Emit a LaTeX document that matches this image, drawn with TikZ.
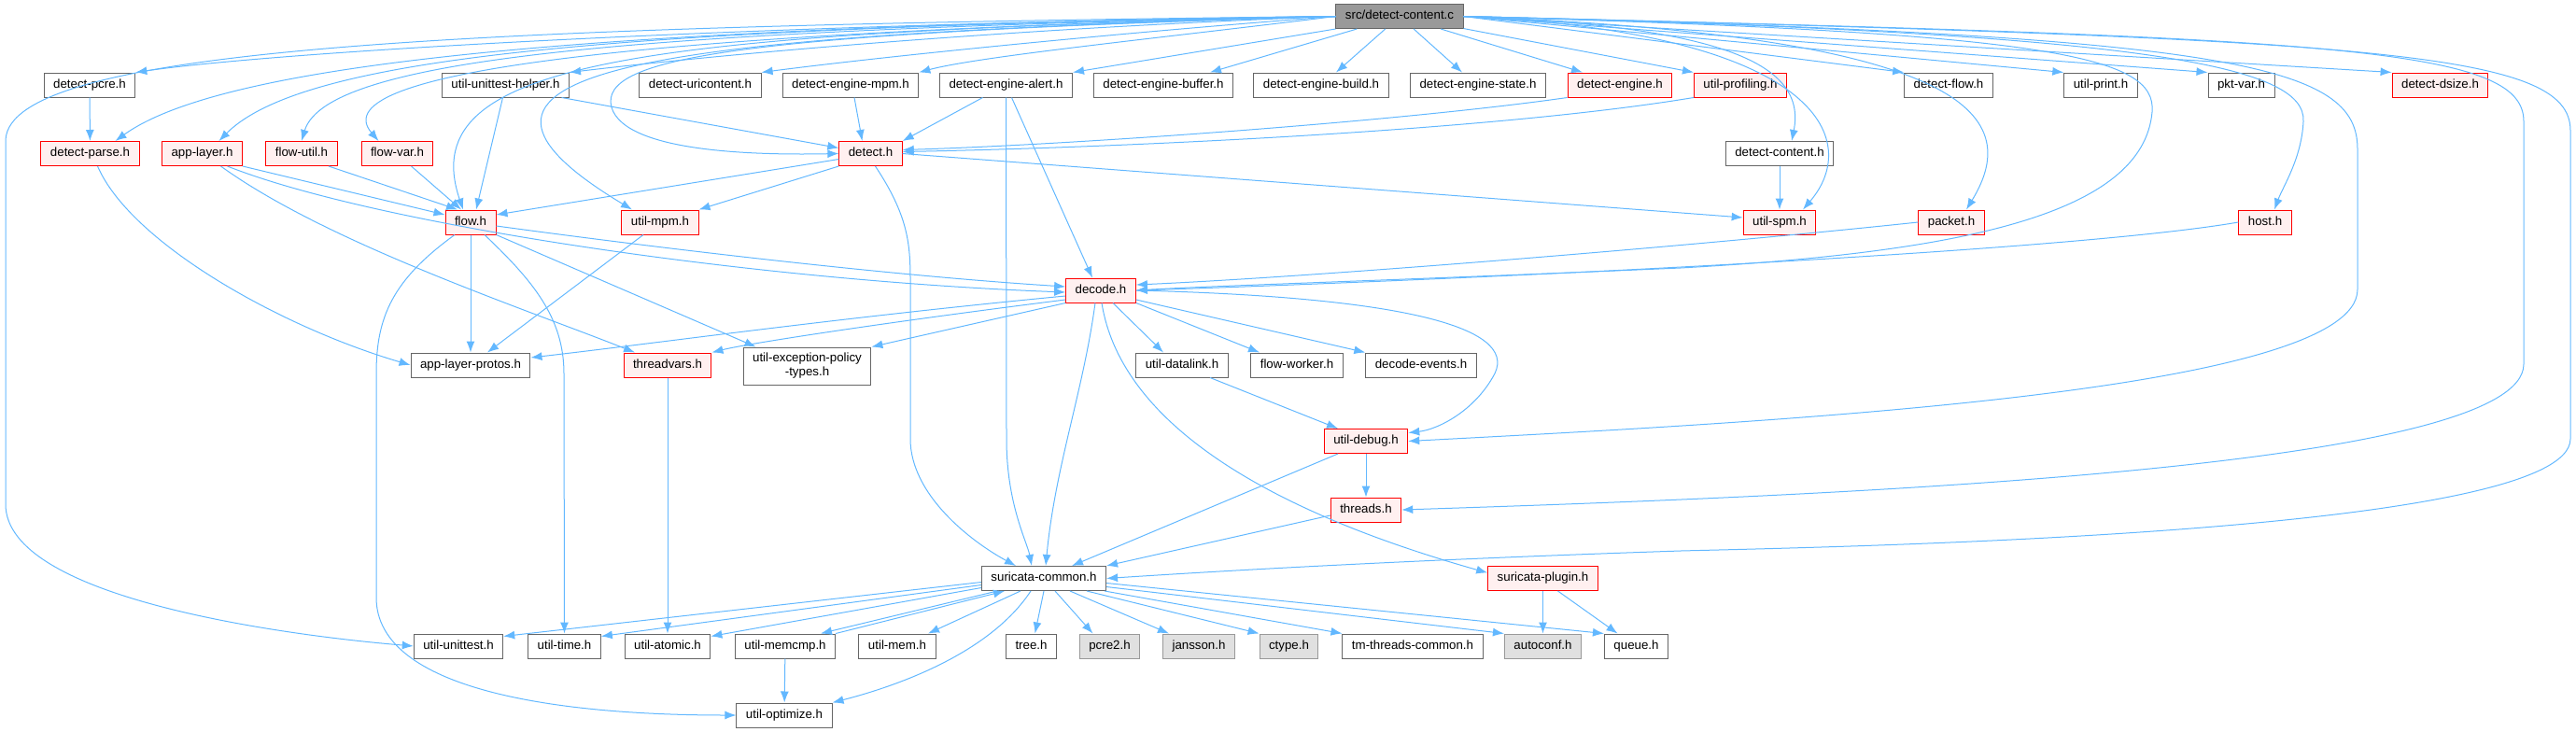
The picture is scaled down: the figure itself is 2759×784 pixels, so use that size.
\documentclass[tikz,border=0pt]{standalone}
\usepackage{fontspec}
\setmainfont{Liberation Sans}
\usetikzlibrary{arrows.meta}
\tikzset{>={Latex[length=12pt,width=9pt]}}
\definecolor{edgeblue}{HTML}{63B8FF}
\definecolor{grey40}{HTML}{666666}
\definecolor{grey60}{HTML}{999999}
\definecolor{redfill}{HTML}{FFF0F0}
\definecolor{sysfill}{HTML}{E0E0E0}
\tikzset{
  hdrbox/.style={rectangle, line width=1pt, minimum height=26pt, inner xsep=10pt,
    font=\fontsize{13.3}{15}\selectfont},
  hdr/.style={hdrbox, text height=9.6pt, text depth=2.8pt, draw=grey40, fill=white},
  hdrred/.style={hdr, draw=red, fill=redfill},
  hdrsys/.style={hdr, draw=grey60, fill=sysfill},
  hdrroot/.style={hdr, draw=grey40, fill=grey60},
  dep/.style={->, draw=edgeblue, line width=1pt}
}

\begin{document}
\begin{tikzpicture}[x=1pt, y=-1pt]
    \useasboundingbox (0,0) rectangle (2759,784);
    % headers
    \node[hdrroot] (root) at (1499,17.5) {src/detect-content.c};
    \node[hdr] (pcre) at (96,91) {detect-pcre.h};
    \node[hdr] (unittesthelper) at (541.5,91) {util-unittest-helper.h};
    \node[hdr] (uricontent) at (750,91) {detect-uricontent.h};
    \node[hdr] (enginempm) at (911,91) {detect-engine-mpm.h};
    \node[hdr] (enginealert) at (1077.5,91) {detect-engine-alert.h};
    \node[hdr] (enginebuffer) at (1246,91) {detect-engine-buffer.h};
    \node[hdr] (enginebuild) at (1415,91) {detect-engine-build.h};
    \node[hdr] (enginestate) at (1583,91) {detect-engine-state.h};
    \node[hdrred] (engine) at (1735,91) {detect-engine.h};
    \node[hdrred] (profiling) at (1864,91) {util-profiling.h};
    \node[hdr] (flowdet) at (2087,91) {detect-flow.h};
    \node[hdr] (print) at (2250,91) {util-print.h};
    \node[hdr] (pktvar) at (2400.5,91) {pkt-var.h};
    \node[hdrred] (dsize) at (2613.5,91) {detect-dsize.h};
    \node[hdrred] (parse) at (96.5,164.5) {detect-parse.h};
    \node[hdrred] (applayer) at (216.5,164.5) {app-layer.h};
    \node[hdrred] (flowutil) at (323,164.5) {flow-util.h};
    \node[hdrred] (flowvar) at (425.5,164.5) {flow-var.h};
    \node[hdrred] (detect) at (932.5,164.5) {detect.h};
    \node[hdr] (content) at (1906,164.5) {detect-content.h};
    \node[hdrred] (flow) at (504,238) {flow.h};
    \node[hdrred] (mpm) at (707,238) {util-mpm.h};
    \node[hdrred] (spm) at (1906,238) {util-spm.h};
    \node[hdrred] (packet) at (2090,238) {packet.h};
    \node[hdrred] (host) at (2426,238) {host.h};
    \node[hdrred] (decode) at (1179,311) {decode.h};
    \node[hdr] (protos) at (504,391) {app-layer-protos.h};
    \node[hdrred] (threadvars) at (715,391) {threadvars.h};
    \node[hdrbox, draw=grey40, fill=white, align=center, minimum height=40pt] (excpol) at (864.5,392) {util-exception-policy\\-types.h};
    \node[hdr] (datalink) at (1266,391) {util-datalink.h};
    \node[hdr] (worker) at (1389,391) {flow-worker.h};
    \node[hdr] (events) at (1522,391) {decode-events.h};
    \node[hdrred] (debug) at (1463,472.5) {util-debug.h};
    \node[hdrred] (threads) at (1463,546) {threads.h};
    \node[hdr] (common) at (1118,619.5) {suricata-common.h};
    \node[hdrred] (plugin) at (1652.5,619.5) {suricata-plugin.h};
    \node[hdr] (unittest) at (491,692) {util-unittest.h};
    \node[hdr] (time) at (604.5,692) {util-time.h};
    \node[hdr] (atomic) at (715,692) {util-atomic.h};
    \node[hdr] (memcmp) at (841,692) {util-memcmp.h};
    \node[hdr] (mem) at (961,692) {util-mem.h};
    \node[hdr] (tree) at (1104.5,692) {tree.h};
    \node[hdrsys] (pcre2) at (1188.5,692) {pcre2.h};
    \node[hdrsys] (jansson) at (1284,692) {jansson.h};
    \node[hdrsys] (ctype) at (1380.5,692) {ctype.h};
    \node[hdr] (tmthreads) at (1513,692) {tm-threads-common.h};
    \node[hdrsys] (autoconf) at (1652.5,692) {autoconf.h};
    \node[hdr] (queue) at (1752.5,692) {queue.h};
    \node[hdr] (optimize) at (840,766) {util-optimize.h};

    % includes of src/detect-content.c, left side
    \draw[dep] (root.west) .. controls (500,28) and (10,50) .. (6,150) -- (6,540) .. controls (6,640) and (300,680) .. (unittest.west);
    \draw[dep] (root.west) .. controls (800,26) and (300,55) .. (pcre.north east);
    \draw[dep] (root.west) .. controls (700,28) and (250,60) .. ([xshift=27pt]parse.north);
    \draw[dep] (root.west) .. controls (700,30) and (330,55) .. ([xshift=18pt]applayer.north);
    \draw[dep] (root.west) .. controls (700,32) and (350,60) .. (flowutil.north);
    \draw[dep] (root.west) .. controls (700,34) and (340,75) .. ([xshift=-20pt]flowvar.north);
    \draw[dep] (root.west) .. controls (700,36) and (440,60) .. ([xshift=-8pt]flow.north);
    \draw[dep] (root.west) .. controls (700,38) and (420,70) .. ([xshift=-30pt]mpm.north);
    \draw[dep] (root.west) .. controls (1100,30) and (800,55) .. (unittesthelper.north east);
    \draw[dep] (root.west) .. controls (1200,35) and (950,60) .. (uricontent.north east);
    \draw[dep] (root.west) .. controls (800,36) and (640,60) .. (655,115) .. controls (670,165) and (820,166) .. (detect.west);
    \draw[dep] (root.west) .. controls (1250,40) and (1050,60) .. (enginempm.north east);
    \draw[dep] (root.south west) -- (enginealert.north east);
    \draw[dep] (root) -- ([xshift=50pt]enginebuffer.north);
    \draw[dep] (root) -- ([xshift=16pt]enginebuild.north);
    \draw[dep] (root) -- ([xshift=-17pt]enginestate.north);
    \draw[dep] (root) -- ([xshift=-40pt]engine.north);
    \draw[dep] (root) -- (profiling.north west);
    % right side
    \draw[dep] (root.east) -- (flowdet.north west);
    \draw[dep] (root.east) -- (print.north west);
    \draw[dep] (root.east) -- (pktvar.north west);
    \draw[dep] (root.east) -- (dsize.north west);
    \draw[dep] (root.east) .. controls (1850,28) and (1935,70) .. ([xshift=13pt]content.north);
    \draw[dep] (root.east) .. controls (1950,35) and (1995,150) .. ([xshift=25pt]spm.north);
    \draw[dep] (root.east) .. controls (2100,38) and (2170,120) .. ([xshift=16pt]packet.north);
    \draw[dep] (root.east) .. controls (2200,35) and (2310,60) .. (2305,120) .. controls (2295,230) and (2100,270) .. (1800,287) .. controls (1500,300) and (1300,306) .. (decode.east);
    \draw[dep] (root.east) .. controls (2300,35) and (2470,70) .. (2467,130) .. controls (2465,170) and (2445,200) .. ([xshift=10pt]host.north);
    \draw[dep] (root.east) .. controls (2400,38) and (2525,70) .. (2525,160) -- (2525,310) .. controls (2525,420) and (1900,452) .. (debug.east);
    \draw[dep] (root.east) .. controls (2500,40) and (2703,50) .. (2703,130) -- (2703,390) .. controls (2703,500) and (2000,530) .. (threads.east);
    \draw[dep] (root.east) .. controls (2550,42) and (2753,55) .. (2753,140) -- (2753,470) .. controls (2753,570) and (2000,585) .. (1800,590) .. controls (1500,600) and (1300,612) .. (common.east);

    % the other includes
    \draw[dep] (pcre) -- (parse);
    \draw[dep] ([xshift=8pt]parse.south) .. controls (140,260) and (300,350) .. (protos.west);
    \draw[dep] (applayer.south east) -- ([yshift=8pt]flow.west);
    \draw[dep] ([xshift=27pt]applayer.south) .. controls (400,240) and (800,300) .. ([yshift=-2pt]decode.west);
    \draw[dep] ([xshift=20pt]applayer.south) .. controls (350,260) and (560,330) .. ([xshift=-35pt]threadvars.north);
    \draw[dep] ([xshift=29pt]flowutil.south) -- ([xshift=-14pt]flow.north);
    \draw[dep] ([xshift=15pt]flowvar.south) -- ([xshift=-10pt]flow.north);
    \draw[dep] ([xshift=-3pt]unittesthelper.south) -- ([xshift=6pt]flow.north);
    \draw[dep] ([xshift=60pt]unittesthelper.south) -- ([yshift=6pt]detect.west);
    \draw[dep] ([yshift=-6pt]detect.west) -- ([yshift=8pt]flow.east);
    \draw[dep] (detect.south west) -- (mpm.north east);
    \draw[dep] (detect.east) -- ([yshift=5pt]spm.west);
    \draw[dep] ([xshift=5pt]detect.south) .. controls (972,230) and (975,260) .. (975,300) -- (975,470) .. controls (975,530) and (1040,580) .. ([xshift=-30pt]common.north);
    \draw[dep] ([xshift=4pt]enginempm.south) -- ([xshift=-9pt]detect.north);
    \draw[dep] ([xshift=-25pt]enginealert.south) -- (detect.north east);
    \draw[dep] (enginealert.south) -- (1078,470) .. controls (1078,540) and (1100,580) .. ([xshift=-13pt]common.north);
    \draw[dep] ([xshift=6pt]enginealert.south) -- ([xshift=-9pt]decode.north);
    \draw[dep] (engine.south west) .. controls (1500,130) and (1150,155) .. ([yshift=4pt]detect.east);
    \draw[dep] (profiling.south west) .. controls (1600,140) and (1200,158) .. ([yshift=2pt]detect.east);
    \draw[dep] (content) -- (spm);
    \draw[dep] (packet.west) .. controls (1800,265) and (1400,297) .. ([yshift=6pt]decode.east);
    \draw[dep] (host.west) .. controls (2200,272) and (1500,302) .. (decode.east);
    \draw[dep] ([xshift=-18pt]mpm.south) -- ([xshift=18pt]protos.north);
    \draw[dep] (flow) -- (protos);
    \draw[dep] ([xshift=-17pt]flow.south) .. controls (420,300) and (403,340) .. (403,400) -- (403,640) .. controls (403,740) and (600,766) .. (optimize.west);
    \draw[dep] ([xshift=15pt]flow.south) .. controls (570,300) and (604,340) .. (604,400) -- (time.north);
    \draw[dep] (flow.south east) -- ([xshift=-55pt]excpol.north);
    \draw[dep] ([yshift=-4pt]flow.east) .. controls (700,265) and (950,295) .. ([yshift=4pt]decode.west);
    \draw[dep] ([yshift=-6pt]decode.west) .. controls (900,340) and (700,368) .. ([yshift=8pt]protos.east);
    \draw[dep] ([yshift=-10pt]decode.west) .. controls (950,345) and (800,368) .. (threadvars.north east);
    \draw[dep] (decode.south west) -- (excpol.north east);
    \draw[dep] ([xshift=13pt]decode.south) -- ([xshift=-20pt]datalink.north);
    \draw[dep] (decode.south east) -- ([xshift=-40pt]worker.north);
    \draw[dep] ([yshift=-10pt]decode.east) -- (events.north west);
    \draw[dep] (decode.east) .. controls (1500,318) and (1625,350) .. (1601,400) .. controls (1580,440) and (1540,460) .. ([yshift=9pt]debug.east);
    \draw[dep] ([xshift=-6pt]decode.south) .. controls (1160,420) and (1130,500) .. ([xshift=2pt]common.north);
    \draw[dep] ([xshift=1pt]decode.south) .. controls (1200,450) and (1350,545) .. ([yshift=6pt]plugin.west);
    \draw[dep] (threadvars) -- (atomic);
    \draw[dep] ([xshift=30pt]datalink.south) -- ([xshift=-30pt]debug.north);
    \draw[dep] (debug) -- (threads);
    \draw[dep] ([xshift=-30pt]debug.south) -- ([xshift=30pt]common.north);
    \draw[dep] ([yshift=-6pt]threads.west) -- (common.north east);
    \draw[dep] (plugin) -- (autoconf);
    \draw[dep] ([xshift=16pt]plugin.south) -- ([xshift=-20pt]queue.north);
    \draw[dep] ([yshift=-4pt]common.west) -- ([yshift=-3pt]unittest.north east);
    \draw[dep] ([yshift=-7pt]common.west) -- ([yshift=-3pt]time.north east);
    \draw[dep] ([yshift=-10pt]common.west) -- ([yshift=-3pt]atomic.north east);
    \draw[dep] ([xshift=-50pt]common.south) -- ([xshift=38pt]memcmp.north);
    \draw[dep] (memcmp.north east) -- ([xshift=-42pt]common.south);
    \draw[dep] ([xshift=-25pt]common.south) -- ([xshift=33pt]mem.north);
    \draw[dep] (common.south) -- ([xshift=4pt]tree.north);
    \draw[dep] ([xshift=12pt]common.south) -- ([xshift=-18pt]pcre2.north);
    \draw[dep] ([xshift=28pt]common.south) -- ([xshift=-32pt]jansson.north);
    \draw[dep] ([xshift=46pt]common.south) -- (ctype.north west);
    \draw[dep] ([xshift=-2pt]common.south east) -- (tmthreads.north west);
    \draw[dep] ([yshift=-9pt]common.east) -- (autoconf.north west);
    \draw[dep] ([yshift=-5pt]common.east) -- (queue.north west);
    \draw[dep] ([xshift=-14pt]common.south) .. controls (1060,700) and (960,735) .. (optimize.north east);
    \draw[dep] (memcmp) -- (optimize);
\end{tikzpicture}
\end{document}
